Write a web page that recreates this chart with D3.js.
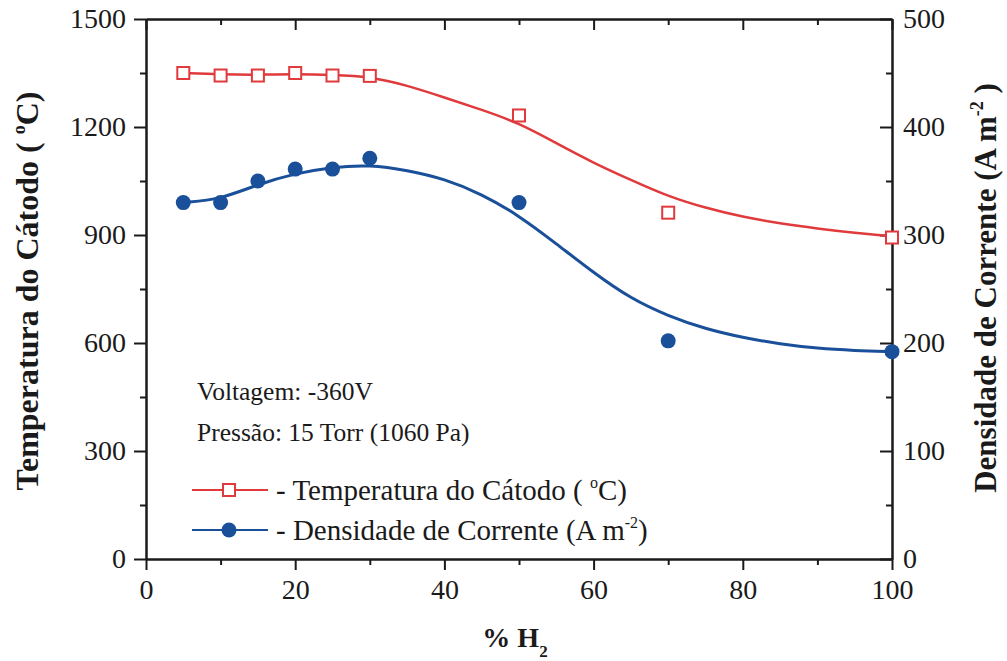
<!DOCTYPE html>
<html>
<head>
<meta charset="utf-8">
<script src="https://cdn.jsdelivr.net/npm/d3@7"></script>
<style>
  body { margin: 0; background: #fff; }
  svg text { font-family: "Liberation Serif", "Times New Roman", serif; fill: #1a1a1a; }
</style>
</head>
<body>
<div id="chart"></div>
<script>
// measured points
var h2_pct = [5, 10, 15, 20, 25, 30, 50, 70, 100];
var temp_pts = [1350, 1343, 1343, 1350, 1343, 1342, 1232, 962, 893];
var curr_pts = [330, 330, 350, 361, 361, 371, 330, 202, 192];

// fitted curves
var fit_x = [5, 10, 15, 20, 25, 30, 35, 40, 45, 50, 55, 60, 65, 70, 75, 80, 85, 90, 95, 100];
var temp_fit = [1350, 1346, 1345, 1347, 1345, 1340, 1316, 1282, 1248, 1211, 1155, 1100, 1053, 1007, 975, 950, 932, 918, 906, 896];
var curr_fit = [330, 333, 347, 357, 363, 365, 360, 352, 338, 318, 292, 265, 241, 225, 213, 205, 199, 195, 193, 192];

// ticks
var x_ticks = [0, 20, 40, 60, 80, 100];
var x_minor = [10, 30, 50, 70, 90];
var yl_ticks = [0, 300, 600, 900, 1200, 1500];
var yl_minor = [150, 450, 750, 1050, 1350];
var yr_ticks = [0, 100, 200, 300, 400, 500];
var yr_minor = [50, 150, 250, 350, 450];

var RED = "#e03a3c", BLUE = "#1a4f9a";
var width = 1007, height = 661;
var m_left = 146, m_right = 892, m_top = 19, m_bottom = 559;

var svg = d3.select("#chart").append("svg")
            .attr("width", width)
            .attr("height", height);

var x = d3.scaleLinear().domain([0, 100]).range([m_left, m_right]);
var yl = d3.scaleLinear().domain([0, 1500]).range([m_bottom, m_top]);
var yr = d3.scaleLinear().domain([0, 500]).range([m_bottom, m_top]);
var fmt = d3.format("d");

function styleAxis(g) {
    g.selectAll("path").attr("stroke", "#1a1a1a").attr("stroke-width", 2);
    g.selectAll("line").attr("stroke", "#1a1a1a").attr("stroke-width", 2);
    g.selectAll("text").style("font-size", "28px").attr("fill", "#1a1a1a");
}

// bottom axis, ticks outward
var gx = svg.append("g").attr("transform", "translate(0," + m_bottom + ")")
            .call(d3.axisBottom(x).tickValues(x_ticks).tickFormat(fmt).tickSize(11).tickSizeOuter(0).tickPadding(5));
styleAxis(gx);
gx.selectAll("text").attr("dy", "0.85em");
svg.append("g").attr("transform", "translate(0," + m_bottom + ")")
   .call(d3.axisBottom(x).tickValues(x_minor).tickSize(6).tickSizeOuter(0).tickFormat(""))
   .call(styleAxis);

// top axis, ticks inward
svg.append("g").attr("transform", "translate(0," + m_top + ")")
   .call(d3.axisBottom(x).tickValues(x_ticks).tickSize(11).tickSizeOuter(0).tickFormat(""))
   .call(styleAxis);
svg.append("g").attr("transform", "translate(0," + m_top + ")")
   .call(d3.axisBottom(x).tickValues(x_minor).tickSize(6).tickSizeOuter(0).tickFormat(""))
   .call(styleAxis);

// left axis, ticks outward
var gyl = svg.append("g").attr("transform", "translate(" + m_left + ",0)")
             .call(d3.axisLeft(yl).tickValues(yl_ticks).tickFormat(fmt).tickSize(12).tickSizeOuter(0).tickPadding(8));
styleAxis(gyl);
svg.append("g").attr("transform", "translate(" + m_left + ",0)")
   .call(d3.axisLeft(yl).tickValues(yl_minor).tickSize(6).tickSizeOuter(0).tickFormat(""))
   .call(styleAxis);

// right axis, ticks inward, labels outside
var gyr = svg.append("g").attr("transform", "translate(" + m_right + ",0)")
             .call(d3.axisLeft(yr).tickValues(yr_ticks).tickFormat(fmt).tickSize(12).tickSizeOuter(0).tickPadding(0));
styleAxis(gyr);
gyr.selectAll("text").attr("x", 11).attr("text-anchor", "start");
svg.append("g").attr("transform", "translate(" + m_right + ",0)")
   .call(d3.axisLeft(yr).tickValues(yr_minor).tickSize(6).tickSizeOuter(0).tickFormat(""))
   .call(styleAxis);

// curves
var tempLine = d3.line().curve(d3.curveBasis)
                 .x(function (d, i) { return x(fit_x[i]); })
                 .y(function (d) { return yl(d); });
var currLine = d3.line().curve(d3.curveBasis)
                 .x(function (d, i) { return x(fit_x[i]); })
                 .y(function (d) { return yr(d); });

svg.append("path").datum(temp_fit).attr("d", tempLine)
   .attr("fill", "none").attr("stroke", RED).attr("stroke-width", 2.5);
svg.append("path").datum(curr_fit).attr("d", currLine)
   .attr("fill", "none").attr("stroke", BLUE).attr("stroke-width", 3);

// markers
svg.selectAll("rect.temp").data(temp_pts).enter().append("rect")
   .attr("class", "temp")
   .attr("x", function (d, i) { return x(h2_pct[i]) - 6; })
   .attr("y", function (d) { return yl(d) - 6; })
   .attr("width", 12).attr("height", 12)
   .attr("fill", "white").attr("stroke", RED).attr("stroke-width", 2);

svg.selectAll("circle.curr").data(curr_pts).enter().append("circle")
   .attr("class", "curr")
   .attr("cx", function (d, i) { return x(h2_pct[i]); })
   .attr("cy", function (d) { return yr(d); })
   .attr("r", 7.5)
   .attr("fill", BLUE);

// annotations
svg.append("text").attr("x", 197).attr("y", 400).style("font-size", "25.5px").text("Voltagem: -360V");
svg.append("text").attr("x", 197).attr("y", 441).style("font-size", "25.5px").text("Pressão: 15 Torr (1060 Pa)");

// legend
var legend = [
    { y: 490, color: RED, type: "square", label: "- Temperatura do Cátodo ( ", sup: "o", after: "C)" },
    { y: 530, color: BLUE, type: "circle", label: "- Densidade de Corrente (A m", sup: "-2", after: ")" }
];
legend.forEach(function (l) {
    svg.append("line").attr("x1", 192).attr("x2", 268).attr("y1", l.y).attr("y2", l.y)
       .attr("stroke", l.color).attr("stroke-width", 2);
    if (l.type == "square") {
        svg.append("rect").attr("x", 223).attr("y", l.y - 6).attr("width", 12).attr("height", 12)
           .attr("fill", "white").attr("stroke", l.color).attr("stroke-width", 2);
    } else {
        svg.append("circle").attr("cx", 229).attr("cy", l.y).attr("r", 7.5).attr("fill", l.color);
    }
    var t = svg.append("text").attr("x", 276).attr("y", l.y + 10).style("font-size", "29px");
    t.append("tspan").text(l.label);
    t.append("tspan").attr("dy", -12).style("font-size", "16px").text(l.sup);
    t.append("tspan").attr("dy", 12).text(l.after);
});

// axis titles
var lt = svg.append("text")
            .attr("transform", "translate(38,291) rotate(-90)")
            .attr("text-anchor", "middle")
            .style("font-size", "32px").style("font-weight", "bold");
lt.append("tspan").text("Temperatura do Cátodo ( ");
lt.append("tspan").attr("dy", -13).style("font-size", "18px").text("o");
lt.append("tspan").attr("dy", 13).text("C)");

var rt = svg.append("text")
            .attr("transform", "translate(996,288) rotate(-90)")
            .attr("text-anchor", "middle")
            .style("font-size", "31px").style("font-weight", "bold");
rt.append("tspan").text("Densidade de Corrente  (A m");
rt.append("tspan").attr("dy", -13).style("font-size", "18px").text("-2");
rt.append("tspan").attr("dy", 13).text(" )");

var xt = svg.append("text").attr("x", 515).attr("y", 647)
            .attr("text-anchor", "middle")
            .style("font-size", "28px").style("font-weight", "bold");
xt.append("tspan").text("% H");
xt.append("tspan").attr("dy", 10).style("font-size", "17px").text("2");
</script>
</body>
</html>
